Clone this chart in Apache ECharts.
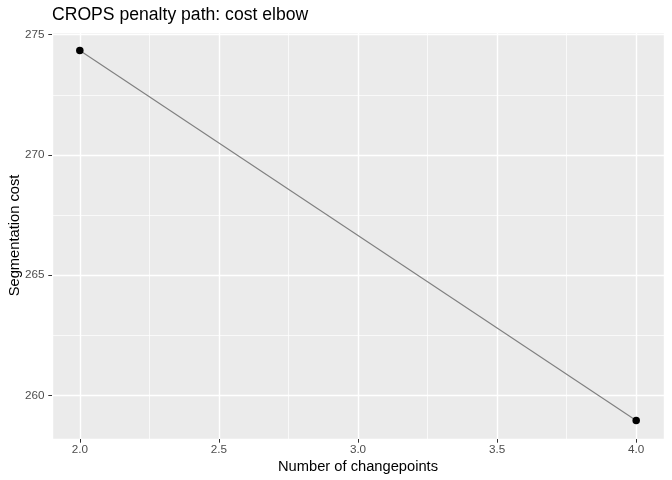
<!DOCTYPE html>
<html>
<head>
<meta charset="utf-8">
<script src="https://cdn.jsdelivr.net/npm/echarts@6/dist/echarts.min.js"></script>
<style>html,body{margin:0;padding:0;background:#fff;}#c{width:672px;height:480px;}</style>
</head>
<body>
<div id="c"></div>
<script>
const changepoints = [2, 4];
const costs = [274.34, 258.96];
const titleText = "CROPS penalty path: cost elbow";
const xName = "Number of changepoints";
const yName = "Segmentation cost";

const chart = echarts.init(document.getElementById('c'), null, {renderer: 'canvas'});
const font = 'Liberation Sans, Arial, Helvetica, sans-serif';
chart.setOption({
  animation: false,
  backgroundColor: '#ffffff',
  title: {
    text: titleText,
    left: 47,
    top: 1,
    textStyle: {fontFamily: font, fontSize: 17.6, fontWeight: 'normal', color: '#000'}
  },
  grid: {left: 52, right: 8, top: 32, bottom: 41, show: true, backgroundColor: '#EBEBEB', borderWidth: 0,
    containLabel: false, outerBoundsMode: 'none'},
  xAxis: {
    type: 'value',
    min: 1.9, max: 4.1,
    splitNumber: 4,
    name: xName,
    nameLocation: 'middle',
    nameGap: 20,
    nameMoveOverlap: false,
    nameTextStyle: {fontFamily: font, fontSize: 14.7, color: '#000'},
    axisLine: {show: false},
    axisTick: {show: true, length: 3.7, lineStyle: {color: '#333333', width: 1}},
    axisLabel: {fontFamily: font, fontSize: 11.7, color: '#4D4D4D', margin: 5, showMinLabel: false, showMaxLabel: false,
      formatter: v => v.toFixed(1)},
    splitLine: {show: true, lineStyle: {color: '#ffffff', width: 1.4}},
    minorTick: {show: false, splitNumber: 2},
    minorSplitLine: {show: true, lineStyle: {color: '#ffffff', width: 0.7}}
  },
  yAxis: {
    type: 'value',
    min: 258.19, max: 275.11,
    splitNumber: 3,
    name: yName,
    nameLocation: 'middle',
    nameGap: 30,
    nameMoveOverlap: false,
    nameTextStyle: {fontFamily: font, fontSize: 14.7, color: '#000'},
    axisLine: {show: false},
    axisTick: {show: true, length: 3.7, lineStyle: {color: '#333333', width: 1}},
    axisLabel: {fontFamily: font, fontSize: 11.7, color: '#4D4D4D', margin: 7.5, showMinLabel: false, showMaxLabel: false,
      formatter: v => String(Math.round(v))},
    splitLine: {show: true, lineStyle: {color: '#ffffff', width: 1.4}},
    minorTick: {show: false, splitNumber: 2},
    minorSplitLine: {show: true, lineStyle: {color: '#ffffff', width: 0.7}}
  },
  series: [{
    type: 'line',
    data: changepoints.map((x, i) => [x, costs[i]]),
    symbol: 'circle',
    symbolSize: 7.5,
    showAllSymbol: true,
    itemStyle: {color: '#000000'},
    lineStyle: {color: '#7F7F7F', width: 1.1},
    z: 3
  }]
});
</script>
</body>
</html>
